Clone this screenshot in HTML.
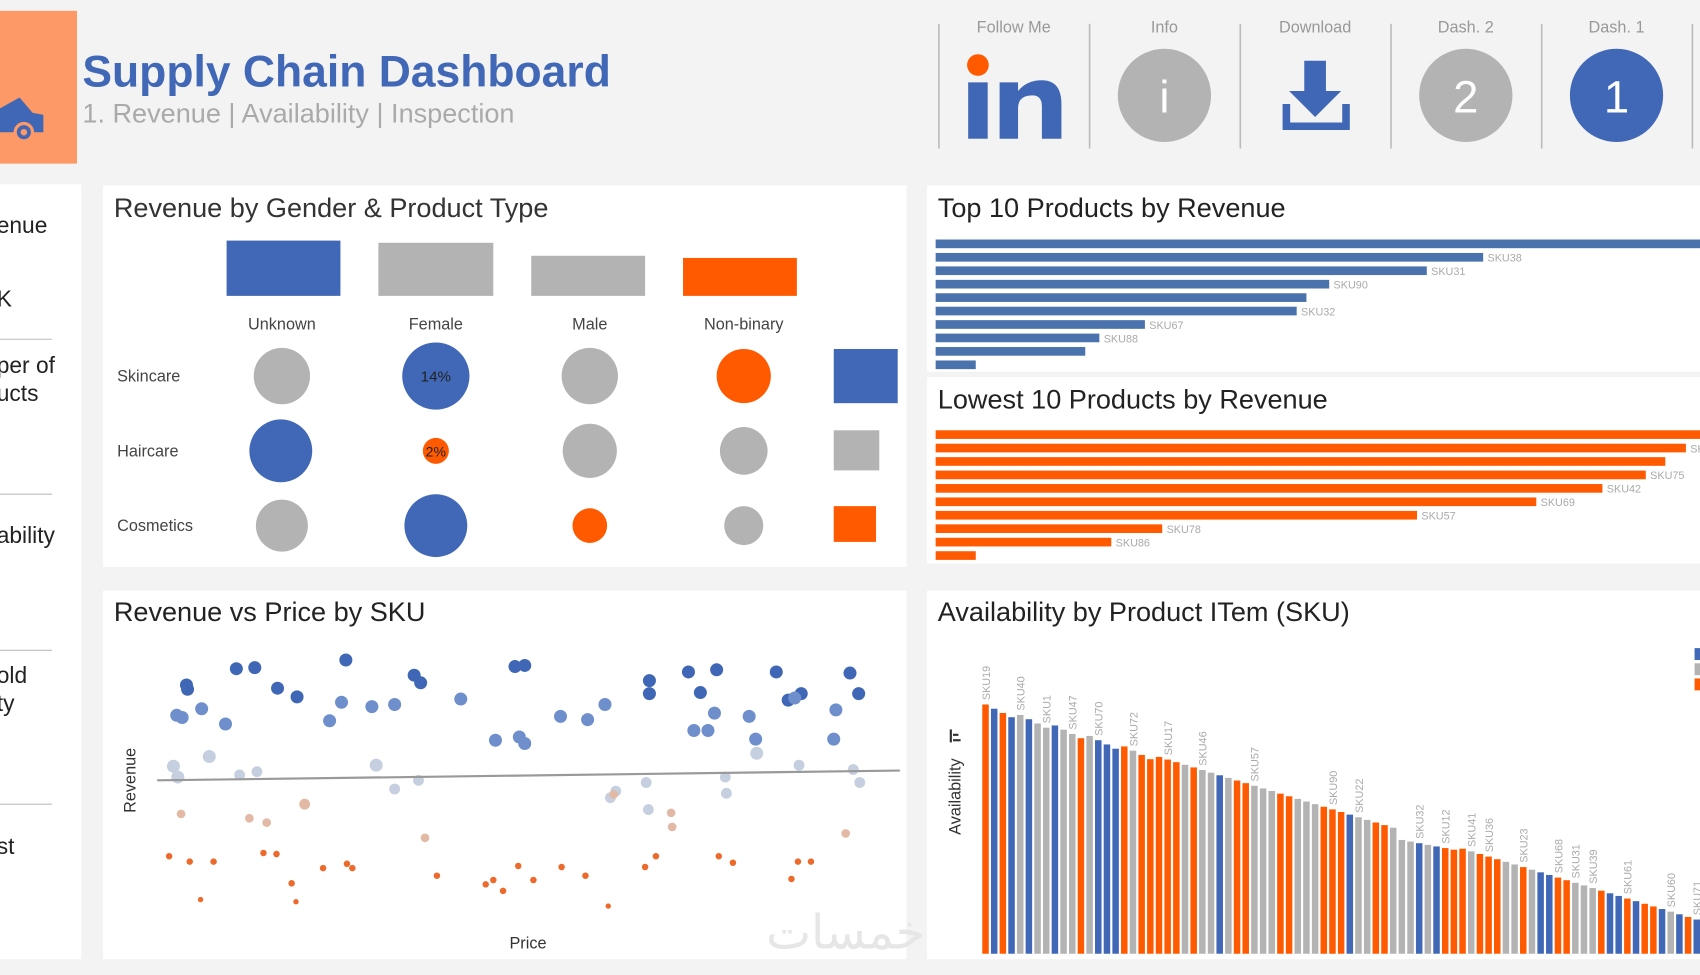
<!DOCTYPE html>
<html><head><meta charset="utf-8">
<style>
html,body{margin:0;padding:0;background:#f3f3f3;overflow:hidden;width:1700px;height:970px}
#w{position:absolute;left:0;top:0;width:1568px;height:895px;transform:scale(1.08418,1.08380);transform-origin:0 0;font-family:"Liberation Sans","DejaVu Sans",sans-serif}
svg text{font-family:"Liberation Sans","DejaVu Sans",sans-serif}
</style></head><body>
<div id="w">
<svg id="s" width="1568" height="895" xmlns="http://www.w3.org/2000/svg">
<rect width="1568" height="895" fill="#f3f3f3"/>
<rect x="0" y="10" width="71" height="141" fill="#fc9966"/>
<g fill="#3f67b5"><path d="M0 100 L18 90 L30 104 L40 106 L40 122 L0 122Z"/><circle cx="22" cy="122" r="8" fill="#3f67b5" stroke="#fc9966" stroke-width="3"/><circle cx="22" cy="122" r="3" fill="#fc9966"/></g>
<text x="76" y="80" font-size="41" font-weight="bold" fill="#4168b6">Supply Chain Dashboard</text>
<text x="76" y="113" font-size="25" fill="#aaaaaa">1. Revenue | Availability | Inspection</text>
<g stroke="#bbb" stroke-width="1.5"><line x1="866" y1="22" x2="866" y2="137"/><line x1="1005" y1="22" x2="1005" y2="137"/><line x1="1144" y1="22" x2="1144" y2="137"/><line x1="1283" y1="22" x2="1283" y2="137"/><line x1="1422" y1="22" x2="1422" y2="137"/><line x1="1561" y1="22" x2="1561" y2="137"/></g>
<g font-size="15" fill="#999" text-anchor="middle"><text x="935" y="30">Follow Me</text><text x="1074" y="30">Info</text><text x="1213" y="30">Download</text><text x="1352" y="30">Dash. 2</text><text x="1491" y="30">Dash. 1</text></g>
<circle cx="902" cy="60" r="10" fill="#ff5a00"/><rect x="893" y="76" width="18" height="52" fill="#3f67b5"/>
<path d="M922 76 h17 v8 q8 -10 22 -10 q18 0 18 22 v32 h-18 v-30 q0 -10 -9 -10 q-13 0 -13 12 v28 h-17Z" fill="#3f67b5"/>
<circle cx="1074" cy="88" r="43" fill="#b3b3b3"/><text x="1074" y="104" font-size="42" fill="#fff" text-anchor="middle">i</text>
<path d="M1203 56 h20 v28 h14 l-24 24 l-24 -24 h14Z" fill="#3f67b5"/><path d="M1183 96 v24 h62 v-24 h-7 v17 h-48 v-17Z" fill="#3f67b5"/>
<circle cx="1352" cy="88" r="43" fill="#b3b3b3"/><text x="1352" y="104" font-size="42" fill="#fff" text-anchor="middle">2</text>
<circle cx="1491" cy="88" r="43" fill="#4168b6"/><text x="1491" y="104" font-size="42" fill="#fff" text-anchor="middle">1</text>
<rect x="0" y="170" width="75" height="715" fill="#fff"/>
<g font-size="21" fill="#222"><text x="-3" y="215">enue</text><text x="-3" y="283">K</text><text x="-3" y="344">per of</text><text x="-3" y="370">ucts</text><text x="-3" y="501">ability</text><text x="-3" y="630">old</text><text x="-3" y="656">ty</text><text x="-3" y="788">st</text></g>
<g stroke="#bbb"><line x1="0" y1="313" x2="48" y2="313"/><line x1="0" y1="456" x2="48" y2="456"/><line x1="0" y1="600" x2="48" y2="600"/><line x1="0" y1="742" x2="48" y2="742"/></g>
<rect x="95" y="171" width="741" height="352" fill="#fff"/>
<text x="105" y="200" font-size="25" fill="#333">Revenue by Gender &amp; Product Type</text>
<rect x="209" y="222" width="105" height="51" fill="#4168b6"/><rect x="349" y="224" width="106" height="49" fill="#b3b3b3"/><rect x="490" y="236" width="105" height="37" fill="#b3b3b3"/><rect x="630" y="238" width="105" height="35" fill="#ff5a00"/>
<g font-size="15" fill="#444" text-anchor="middle"><text x="260" y="304">Unknown</text><text x="402" y="304">Female</text><text x="544" y="304">Male</text><text x="686" y="304">Non-binary</text></g>
<g font-size="15" fill="#444"><text x="108" y="352">Skincare</text><text x="108" y="421">Haircare</text><text x="108" y="490">Cosmetics</text></g>
<circle cx="260" cy="347" r="26" fill="#b3b3b3"/><circle cx="402" cy="347" r="31" fill="#4168b6"/><circle cx="544" cy="347" r="26" fill="#b3b3b3"/><circle cx="686" cy="347" r="25" fill="#ff5a00"/>
<circle cx="259" cy="416" r="29" fill="#4168b6"/><circle cx="402" cy="416" r="12" fill="#ff5a00"/><circle cx="544" cy="416" r="25" fill="#b3b3b3"/><circle cx="686" cy="416" r="22" fill="#b3b3b3"/>
<circle cx="260" cy="485" r="24" fill="#b3b3b3"/><circle cx="402" cy="485" r="29" fill="#4168b6"/><circle cx="544" cy="485" r="16" fill="#ff5a00"/><circle cx="686" cy="485" r="18" fill="#b3b3b3"/>
<text x="402" y="352" font-size="14" fill="#222" text-anchor="middle">14%</text><text x="402" y="421" font-size="13" fill="#222" text-anchor="middle">2%</text>
<rect x="769" y="322" width="59" height="50" fill="#4168b6"/><rect x="769" y="397" width="42" height="37" fill="#b3b3b3"/><rect x="769" y="467" width="39" height="33" fill="#ff5a00"/>
<rect x="855" y="171" width="713" height="172" fill="#fff"/>
<text x="865" y="200" font-size="25" fill="#222">Top 10 Products by Revenue</text>
<rect x="855" y="348" width="713" height="172" fill="#fff"/>
<text x="865" y="377" font-size="25" fill="#222">Lowest 10 Products by Revenue</text>
<g id="bars"></g>
<rect x="95" y="545" width="741" height="340" fill="#fff"/>
<text x="105" y="573" font-size="25" fill="#222">Revenue vs Price by SKU</text>
<text transform="translate(125,720) rotate(-90)" font-size="15" fill="#333" text-anchor="middle">Revenue</text>
<text x="487" y="875" font-size="15" fill="#333" text-anchor="middle">Price</text>
<g id="sc"></g>
<line x1="145" y1="720" x2="830" y2="711" stroke="#999" stroke-width="2"/>
<rect x="855" y="545" width="713" height="340" fill="#fff"/>
<text x="865" y="573" font-size="25" fill="#222">Availability by Product ITem (SKU)</text>
<text transform="translate(886,735) rotate(-90)" font-size="15" fill="#333" text-anchor="middle">Availability</text>
<g fill="#333"><rect x="876" y="673" width="2" height="12"/><rect x="879" y="677" width="5" height="2"/><rect x="879" y="682" width="7" height="2"/></g>
<g id="av"></g>
<rect x="1563" y="598" width="5" height="11" fill="#4168b6"/><rect x="1563" y="612" width="5" height="11" fill="#b3b3b3"/><rect x="1563" y="626" width="5" height="11" fill="#ff5a00"/>
<text x="780" y="875" font-size="44" fill="#e6e6e6" text-anchor="middle" font-family="DejaVu Sans">خمسات</text>
</svg>
</div>
<script>
(function(){
var NS="http://www.w3.org/2000/svg";
function el(p,t,a){var e=document.createElementNS(NS,t);for(var k in a)e.setAttribute(k,a[k]);document.getElementById(p).appendChild(e);return e;}
function tx(p,x,y,s,extra){var a={x:x,y:y,"font-size":10,fill:"#aaa"};if(extra){for(var k in extra)a[k]=extra[k];}var e=el(p,"text",a);e.textContent=s;}
var topBars=[[1568,""],[1368,"SKU38"],[1316,"SKU31"],[1226,"SKU90"],[1205,""],[1196,"SKU32"],[1056,"SKU67"],[1014,"SKU88"],[1001,""],[900,""]];
topBars.forEach(function(b,i){var y=221+i*12.4;el("bars","rect",{x:863,y:y,width:b[0]-863,height:8,fill:"#4a72ac"});if(b[1])tx("bars",b[0]+4,y+8,b[1]);});
var lowBars=[[1568,""],[1555,"SK"],[1536,""],[1518,"SKU75"],[1478,"SKU42"],[1417,"SKU69"],[1307,"SKU57"],[1072,"SKU78"],[1025,"SKU86"],[900,""]];
lowBars.forEach(function(b,i){var y=397+i*12.4;el("bars","rect",{x:863,y:y,width:b[0]-863,height:8,fill:"#ff5a00"});if(b[1])tx("bars",b[0]+4,y+8,b[1]);});
var B="#3f67b5",M="#6e8fcc",L="#c5cfe0",LO="#e2b9a4",O="#ec6a2c";
var pts=[[218,617,6,B],[235,616,6,B],[319,609,6,B],[475,615,6,B],[484,614,6,B],[635,620,6,B],[661,618,6,B],[716,620,6,B],[784,621,6,B],[382,623,6,B],[172,632,6,B],[388,630,6,B],[599,628,6,B],[256,635,6,B],[274,643,6,B],[173,636,6,B],[646,639,6,B],[727,646,6,B],[739,640,6,B],[792,640,6,B],[599,640,6,B],
[163,660,6,M],[168,662,6,M],[186,654,6,M],[208,668,6,M],[304,665,6,M],[315,648,6,M],[343,652,6,M],[364,650,6,M],[425,645,6,M],[517,661,6,M],[542,664,6,M],[558,650,6,M],[659,658,6,M],[691,661,6,M],[640,674,6,M],[653,674,6,M],[733,644,6,M],[771,655,6,M],[769,682,6,M],[457,683,6,M],[479,680,6,M],[484,686,6,M],[697,682,6,M],
[698,695,6,L],[193,698,6,L],[160,707,6,L],[164,717,6,L],[221,715,5,L],[237,712,5,L],[347,706,6,L],[364,728,5,L],[386,720,5,L],[596,722,5,L],[598,747,5,L],[568,730,5,L],[563,736,5,L],[669,717,5,L],[670,732,5,L],[737,706,5,L],[787,710,5,L],[793,722,5,L],
[167,751,4,LO],[230,755,4,LO],[246,759,4,LO],[281,742,5,LO],[392,773,4,LO],[619,750,4,LO],[620,763,4,LO],[780,769,4,LO],[566,733,4,LO],
[156,790,3,O],[175,795,3,O],[197,795,3,O],[243,787,3,O],[255,788,3,O],[269,815,3,O],[273,832,2.5,O],[185,830,2.5,O],[298,801,3,O],[320,797,3,O],[325,801,3,O],[403,808,3,O],[448,816,3,O],[455,812,3,O],[464,822,3,O],[478,799,3,O],[492,812,3,O],[518,800,3,O],[540,808,3,O],[561,836,2.5,O],[595,800,3,O],[605,790,3,O],[663,790,3,O],[676,796,3,O],[730,811,3,O],[736,795,3,O],[748,795,3,O]];
pts.forEach(function(p){el("sc","circle",{cx:p[0],cy:p[1],r:p[2],fill:p[3]});});
var cs="OBOBGBGGBGGOGBBBOGOOOOOGOGGBGOOGGGOOGGGOOOBGGOOGGGBGBOOOGOOOGGOGBBOOGGGOBBOBOOBGBOB";
var lab={0:"SKU19",4:"SKU40",7:"SKU1",10:"SKU47",13:"SKU70",17:"SKU72",21:"SKU17",25:"SKU46",31:"SKU57",40:"SKU90",43:"SKU22",50:"SKU32",53:"SKU12",56:"SKU41",58:"SKU36",62:"SKU23",66:"SKU68",68:"SKU31",70:"SKU39",74:"SKU61",79:"SKU60",82:"SKU71"};
var col={O:"#ff5a00",B:"#4168b6",G:"#b3b3b3"};
for(var i=0;i<83;i++){
 var t=650+2.42*i+(i<20?(i%4)*1.5:0);
 if(i>=48&&i<55)t=775+(i-48)*1.5;
 var x=906+i*8;
 el("av","rect",{x:x,y:t,width:6,height:880-t,fill:col[cs.charAt(i)||"O"]});
 if(lab[i]!==undefined){tx("av",0,0,lab[i],{transform:"translate("+(x+7)+","+(t-4)+") rotate(-90)"});}
}
})();
</script>
</body></html>
